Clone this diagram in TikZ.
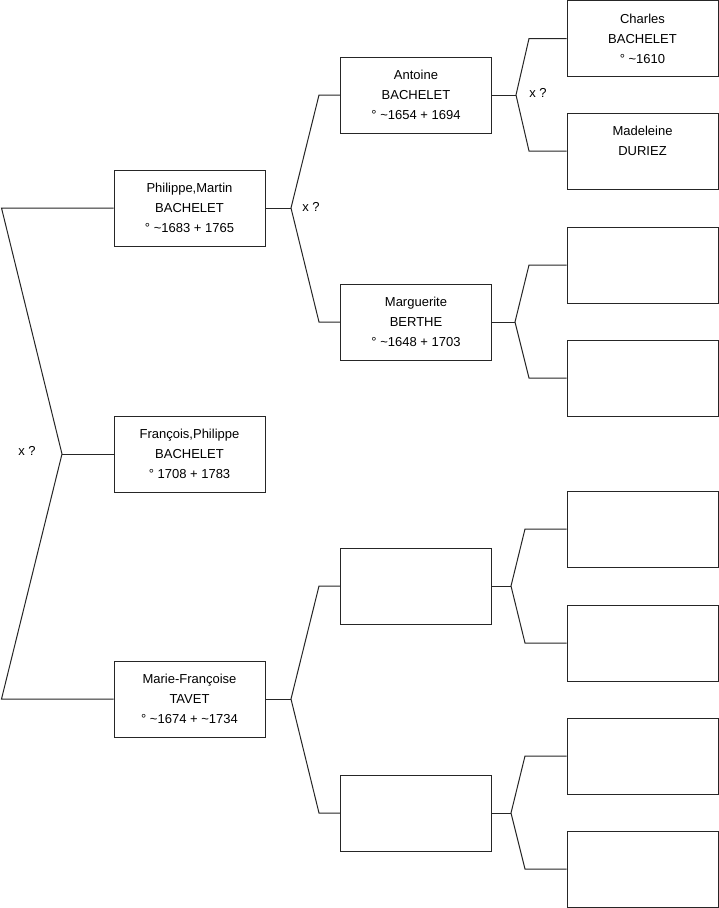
\documentclass[tikz,border=0pt]{standalone}
\usepackage{fontspec}
\setmainfont{Liberation Sans}
\begin{document}
\begin{tikzpicture}[x=1pt,y=-1pt,
  person/.style={draw=black!85,line width=1pt,fill=white,minimum width=151pt,minimum height=76pt,inner sep=0pt,align=center,font=\fontsize{13}{20}\selectfont},
  link/.style={draw=black!85,line width=1pt},
  lbl/.style={font=\fontsize{13}{15}\selectfont,inner sep=0pt}]
\useasboundingbox[fill=white] (0,0) rectangle (719,908);
% column 2
\node[person] (P) at (189.5,208) {Philippe,Martin\\BACHELET\\° \textasciitilde1683 + 1765};
\node[person] (F) at (189.5,454) {François,Philippe\\BACHELET\\° 1708 + 1783};
\node[person] (M) at (189.5,699) {Marie-Françoise\\TAVET\\° \textasciitilde1674 + \textasciitilde1734};
% column 3
\node[person] (A) at (416,95) {Antoine\\BACHELET\\° \textasciitilde1654 + 1694};
\node[person] (G) at (416,322) {Marguerite\\BERTHE\\° \textasciitilde1648 + 1703};
\node[person] (E1) at (416,586) {};
\node[person] (E2) at (416,813) {};
% column 4
\node[person] (C) at (642.5,38.5) {Charles\\BACHELET\\° \textasciitilde1610};
\node[person] (D) at (642.5,151) {Madeleine\\DURIEZ\\\phantom{X}};
\node[person] (Q1) at (642.5,265) {};
\node[person] (Q2) at (642.5,378) {};
\node[person] (Q3) at (642.5,529) {};
\node[person] (Q4) at (642.5,643) {};
\node[person] (Q5) at (642.5,756) {};
\node[person] (Q6) at (642.5,869) {};
% left fork
\coordinate (l1) at (1.5,208);
\coordinate (l2) at (62,454);
\coordinate (l3) at (1.5,699);
\draw[link] (P.west) -- (l1) -- (l2) -- (l3) -- (M.west);
\draw[link] (l2) -- (F.west);
\node[lbl] (x1) at (27,451) {x ?};
% fork from P
\coordinate (p0) at (291,208);
\coordinate (pa) at (319,95);
\coordinate (pb) at (319,322);
\draw[link] (P.east) -- (p0);
\draw[link] (A.west) -- (pa) -- (p0) -- (pb) -- (G.west);
\node[lbl] (x2) at (311,207) {x ?};
% fork from M
\coordinate (m0) at (291,699);
\coordinate (ma) at (319,586);
\coordinate (mb) at (319,813);
\draw[link] (M.east) -- (m0);
\draw[link] (E1.west) -- (ma) -- (m0) -- (mb) -- (E2.west);
% fork from A
\coordinate (a0) at (516,95);
\coordinate (aa) at (529,38.5);
\coordinate (ab) at (529,151);
\draw[link] (A.east) -- (a0);
\draw[link] (C.west) -- (aa) -- (a0) -- (ab) -- (D.west);
\node[lbl] (x3) at (538,93) {x ?};
% fork from G
\coordinate (g0) at (515,322);
\coordinate (ga) at (529,265);
\coordinate (gb) at (529,378);
\draw[link] (G.east) -- (g0);
\draw[link] (Q1.west) -- (ga) -- (g0) -- (gb) -- (Q2.west);
% fork from E1
\coordinate (e0) at (511,586);
\coordinate (ea) at (525,529);
\coordinate (eb) at (525,643);
\draw[link] (E1.east) -- (e0);
\draw[link] (Q3.west) -- (ea) -- (e0) -- (eb) -- (Q4.west);
% fork from E2
\coordinate (f0) at (511,813);
\coordinate (fa) at (525,756);
\coordinate (fb) at (525,869);
\draw[link] (E2.east) -- (f0);
\draw[link] (Q5.west) -- (fa) -- (f0) -- (fb) -- (Q6.west);
\end{tikzpicture}
\end{document}
